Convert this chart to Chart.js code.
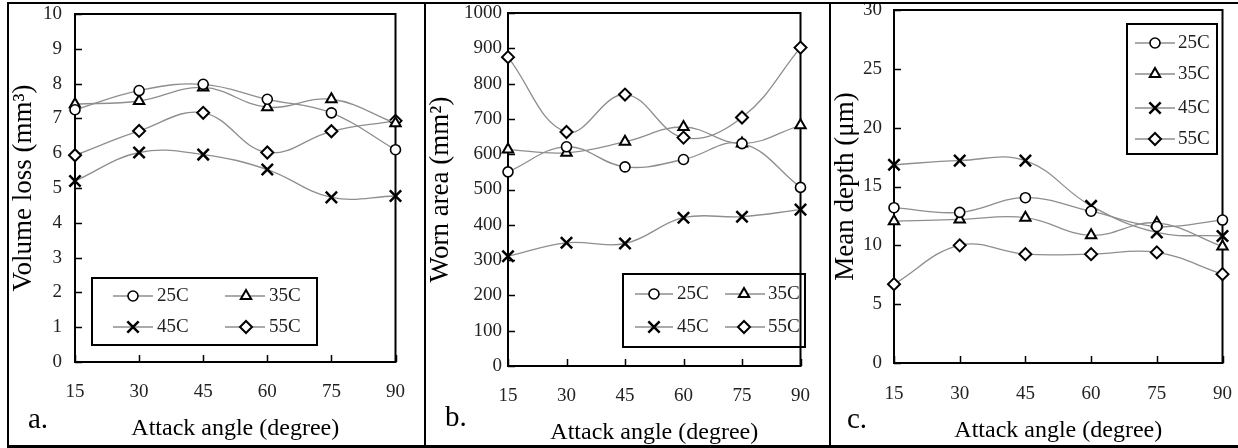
<!DOCTYPE html>
<html>
<head>
<meta charset="utf-8">
<script src="https://cdn.jsdelivr.net/npm/chart.js@4.4.1/dist/chart.umd.min.js"></script>
<style>
	body { margin: 0; background: #fff; width: 1238px; height: 448px; position: relative; overflow: hidden; font-family: "Liberation Serif", serif; }
	canvas { position: absolute; top: -20px; }
	.line { position: absolute; background: #000; z-index: 5; }
	.tag { position: absolute; font-size: 29px; line-height: 28px; color: #000; }
</style>
</head>
<body>
<canvas id="volumeChart" width="415" height="468" style="left:9px"></canvas>
<canvas id="areaChart" width="402" height="468" style="left:427px"></canvas>
<canvas id="depthChart" width="420" height="468" style="left:832px"></canvas>

<div class="line" style="left:7px;top:2px;width:1231px;height:2px"></div>
<div class="line" style="left:7px;top:445px;width:1231px;height:3px"></div>
<div class="line" style="left:7px;top:2px;width:2px;height:446px"></div>
<div class="line" style="left:424px;top:2px;width:2px;height:446px"></div>
<div class="line" style="left:829px;top:2px;width:2px;height:446px"></div>

<div class="tag" style="left:28px;top:404px">a.</div>
<div class="tag" style="left:445px;top:402px">b.</div>
<div class="tag" style="left:847px;top:404px">c.</div>

<script>
// attack angles (degree)
const angles = ['15', '30', '45', '60', '75', '90'];
const seriesNames = ['25C', '35C', '45C', '55C'];

// a. volume loss (mm3)
const volumeLoss25 = [7.25, 7.8, 7.98, 7.55, 7.16, 6.1];
const volumeLoss35 = [7.41, 7.5, 7.89, 7.32, 7.55, 6.86];
const volumeLoss45 = [5.2, 6.02, 5.96, 5.53, 4.73, 4.77];
const volumeLoss55 = [5.94, 6.64, 7.16, 6.02, 6.63, 6.93];

// b. worn area (mm2)
const wornArea25 = [550, 621, 564, 585, 630, 506];
const wornArea35 = [613, 604, 635, 677, 630, 682];
const wornArea45 = [311, 349, 347, 420, 423, 443];
const wornArea55 = [875, 663, 769, 647, 704, 902];

// c. mean depth (um)
const meanDepth25 = [13.2, 12.8, 14.05, 12.9, 11.6, 12.15];
const meanDepth35 = [12.05, 12.2, 12.35, 10.85, 11.9, 9.9];
const meanDepth45 = [16.85, 17.2, 17.2, 13.35, 11.1, 10.8];
const meanDepth55 = [6.7, 10.0, 9.25, 9.25, 9.4, 7.55];

const SERIF = "'Liberation Serif', 'Times New Roman', serif";
const LINE_GREY = '#8e8e8e';
const TICK_LEN = 7;

const markers = [
	{ pointStyle: 'circle', radius: 5, borderWidth: 1.6 },
	{ pointStyle: 'triangle', radius: 6, borderWidth: 2 },
	{ pointStyle: 'crossRot', radius: 8, borderWidth: 2.5 },
	{ pointStyle: 'rectRot', radius: 6, borderWidth: 2 }
];

function makeDatasets(seriesList) {
	return seriesList.map((values, i) => ({
		label: seriesNames[i],
		data: values,
		borderColor: LINE_GREY,
		borderWidth: 1.3,
		tension: 0.4,
		clip: false,
		pointStyle: markers[i].pointStyle,
		pointRadius: markers[i].radius,
		pointBorderWidth: markers[i].borderWidth,
		pointBorderColor: '#000',
		pointBackgroundColor: '#fff'
	}));
}

// frame round the plot area plus inward tick marks, drawn under the markers
const plotFrame = {
	id: 'plotFrame',
	beforeDatasetsDraw(chart) {
		const { ctx, chartArea: a, scales } = chart;
		ctx.save();
		ctx.strokeStyle = '#000';
		ctx.lineWidth = 1.5;
		ctx.beginPath();
		scales.x.ticks.forEach((t, i) => {
			const px = Math.round(scales.x.getPixelForTick(i)) + 0.5;
			ctx.moveTo(px, a.bottom);
			ctx.lineTo(px, a.bottom - TICK_LEN);
		});
		scales.y.ticks.forEach(t => {
			const py = Math.round(scales.y.getPixelForValue(t.value)) + 0.5;
			ctx.moveTo(a.left, py);
			ctx.lineTo(a.left + TICK_LEN, py);
		});
		ctx.stroke();
		ctx.lineWidth = 2;
		ctx.strokeRect(a.left, a.top, a.right - a.left, a.bottom - a.top);
		ctx.restore();
	}
};

function drawMarker(ctx, m, x, y) {
	ctx.fillStyle = '#fff';
	ctx.strokeStyle = '#000';
	ctx.lineWidth = m.borderWidth;
	Chart.helpers.drawPoint(ctx, { pointStyle: m.pointStyle, radius: m.radius, rotation: 0, borderWidth: m.borderWidth }, x, y);
}

// boxed legend with line + marker samples, positions given in page px
const boxLegend = {
	id: 'boxLegend',
	afterDraw(chart, args, opts) {
		if (!opts.box) return;
		const { ctx } = chart;
		const ox = chart.canvas.offsetLeft;
		const oy = chart.canvas.offsetTop;
		const [x1, y1, x2, y2] = opts.box;
		ctx.save();
		ctx.strokeStyle = '#000';
		ctx.lineWidth = 2;
		ctx.strokeRect(x1 - ox, y1 - oy, x2 - x1, y2 - y1);
		opts.rows.forEach((r, i) => {
			ctx.strokeStyle = LINE_GREY;
			ctx.lineWidth = 1.3;
			ctx.beginPath();
			ctx.moveTo(r.x1 - ox, r.y - oy);
			ctx.lineTo(r.x2 - ox, r.y - oy);
			ctx.stroke();
			drawMarker(ctx, markers[i], r.mx - ox, r.y - oy);
			ctx.fillStyle = '#222';
			ctx.font = '19px ' + SERIF;
			ctx.textAlign = 'left';
			ctx.textBaseline = 'middle';
			ctx.fillText(seriesNames[i], r.tx - ox, r.y - oy);
		});
		ctx.restore();
	}
};

function buildChart(id, cfg) {
	const canvas = document.getElementById(id);
	const L = canvas.offsetLeft;
	const W = canvas.width;
	const area = cfg.area;
	return new Chart(canvas, {
		type: 'line',
		data: { labels: angles, datasets: makeDatasets(cfg.series) },
		options: {
			responsive: false,
			animation: false,
			devicePixelRatio: 1,
			events: [],
			layout: { padding: { left: 0, top: area.t + 20, right: L + W - area.r, bottom: 0 } },
			plugins: {
				legend: { display: false },
				tooltip: { enabled: false },
				boxLegend: cfg.legend
			},
			scales: {
				x: {
					type: 'category',
					offset: false,
					afterFit: s => { s.height = 448 - area.b; },
					border: { display: false },
					grid: { display: false, drawTicks: false, tickLength: 0, offset: false },
					ticks: { padding: cfg.xPad, color: '#222', font: { family: SERIF, size: 19 }, maxRotation: 0 },
					title: { display: true, text: 'Attack angle (degree)', color: '#000', font: { family: SERIF, size: 24, lineHeight: 1 }, padding: { top: 0, bottom: cfg.xTitlePad } }
				},
				y: {
					min: cfg.yMin,
					max: cfg.yMax,
					afterFit: s => { s.width = area.l - L; },
					border: { display: false },
					grid: { display: false, drawTicks: false, tickLength: 0 },
					ticks: { stepSize: cfg.yStep, padding: cfg.yPad, color: '#222', font: { family: SERIF, size: 19 }, callback: v => String(v) },
					title: { display: true, text: cfg.yTitle, color: '#000', font: { family: SERIF, size: 27, lineHeight: 1 }, padding: { top: cfg.yTitlePad, bottom: 0 } }
				}
			}
		},
		plugins: [plotFrame, boxLegend]
	});
}

buildChart('volumeChart', {
	series: [volumeLoss25, volumeLoss35, volumeLoss45, volumeLoss55],
	area: { l: 75, t: 14, r: 411, b: 362 },
	yMin: 0, yMax: 10, yStep: 1,
	yTitle: 'Volume loss (mm³)',
	xPad: 19, yPad: 13, xTitlePad: 7, yTitlePad: 1,
	legend: {
		box: [92, 278, 317, 345],
		rows: [
			{ x1: 113, x2: 153, mx: 133, tx: 157, y: 296 },
			{ x1: 225, x2: 265, mx: 246, tx: 269, y: 296 },
			{ x1: 113, x2: 153, mx: 133, tx: 157, y: 327 },
			{ x1: 225, x2: 265, mx: 246, tx: 269, y: 327 }
		]
	}
});

buildChart('areaChart', {
	series: [wornArea25, wornArea35, wornArea45, wornArea55],
	area: { l: 508, t: 13, r: 816, b: 366 },
	yMin: 0, yMax: 1000, yStep: 100,
	yTitle: 'Worn area (mm²)',
	xPad: 19, yPad: 6, xTitlePad: 3, yTitlePad: 0,
	legend: {
		box: [623, 274, 805, 347],
		rows: [
			{ x1: 635, x2: 673, mx: 654, tx: 677, y: 294 },
			{ x1: 725, x2: 765, mx: 744, tx: 768, y: 294 },
			{ x1: 635, x2: 673, mx: 654, tx: 677, y: 327 },
			{ x1: 725, x2: 765, mx: 744, tx: 768, y: 327 }
		]
	}
});

buildChart('depthChart', {
	series: [meanDepth25, meanDepth35, meanDepth45, meanDepth55],
	area: { l: 894, t: 10, r: 1229, b: 363 },
	yMin: 0, yMax: 30, yStep: 5,
	yTitle: 'Mean depth (μm)',
	xPad: 20, yPad: 12, xTitlePad: 5, yTitlePad: 0,
	legend: {
		box: [1127, 24, 1217, 154],
		rows: [
			{ x1: 1135, x2: 1175, mx: 1155, tx: 1178, y: 43 },
			{ x1: 1135, x2: 1175, mx: 1155, tx: 1178, y: 74 },
			{ x1: 1135, x2: 1175, mx: 1155, tx: 1178, y: 108 },
			{ x1: 1135, x2: 1175, mx: 1155, tx: 1178, y: 139 }
		]
	}
});
</script>
</body>
</html>
